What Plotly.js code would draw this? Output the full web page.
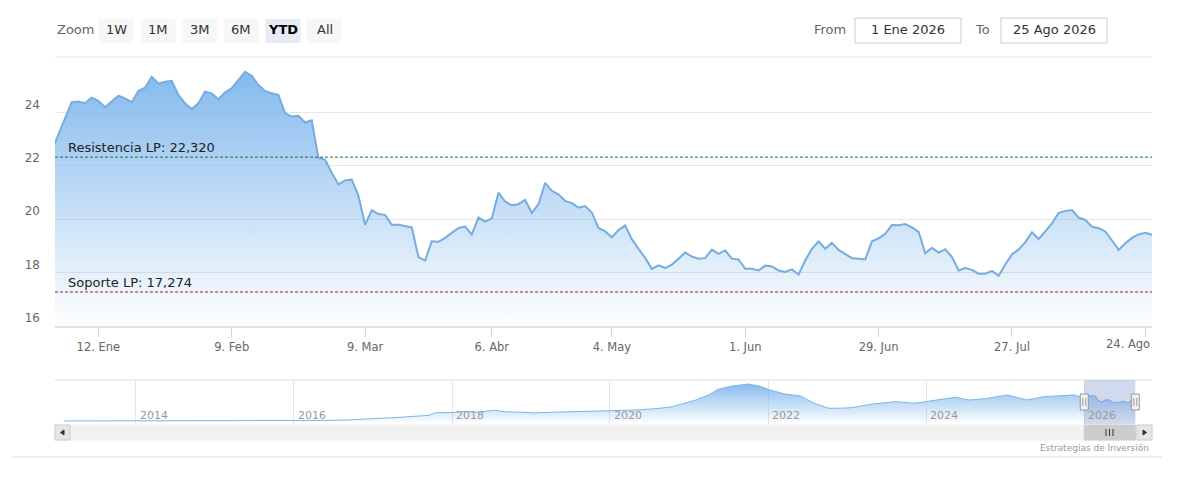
<!DOCTYPE html>
<html><head><meta charset="utf-8">
<script src="https://cdn.plot.ly/plotly-3.0.1.min.js"></script>
<style>html,body{margin:0;padding:0;background:#fff}#chart{width:1180px;height:492px}</style>
</head><body><div id="chart"></div>
<script>
// ---- data ----
const holidays = ['2026-01-01','2026-04-03','2026-04-06','2026-05-01'];
const firstDay = '2025-12-31';
const lastDay = '2026-08-25';
const valuesDec2025 = [22.55];
const valuesJan = [23.16,23.78,24.38,24.40,24.34,24.55,24.43,24.19,24.40,24.62,24.52,24.38,24.80,24.92,25.33,25.08,25.14,25.18,24.65,24.34,24.12];
const valuesFeb = [24.34,24.77,24.71,24.49,24.75,24.90,25.21,25.52,25.37,25.02,24.80,24.71,24.65,23.97,23.84,23.87,23.62,23.70,22.29,22.23];
const valuesMar = [21.74,21.30,21.45,21.48,20.87,19.79,20.34,20.19,20.16,19.79,19.79,19.74,19.69,18.58,18.45,19.17,19.15,19.30,19.47,19.67,19.72,19.42];
const valuesApr = [20.06,19.91,20.03,20.99,20.66,20.52,20.56,20.72,20.23,20.56,21.36,21.06,20.93,20.68,20.60,20.43,20.49,20.25,19.67,19.54];
const valuesMay = [19.32,19.59,19.76,19.25,18.89,18.55,18.14,18.27,18.17,18.30,18.52,18.75,18.60,18.52,18.54,18.86,18.70,18.83,18.52,18.49];
const valuesJun = [18.14,18.14,18.08,18.26,18.23,18.08,18.02,18.12,17.93,18.45,18.89,19.16,18.89,19.11,18.85,18.70,18.54,18.52,18.49,19.17,19.28,19.45];
const valuesJul = [19.78,19.77,19.82,19.69,19.52,18.72,18.93,18.75,18.87,18.58,18.08,18.17,18.10,17.96,17.96,18.06,17.88,18.30,18.68,18.86,19.14,19.51,19.26];
const valuesAug = [19.54,19.84,20.24,20.31,20.34,20.06,19.97,19.72,19.66,19.54,19.20,18.85,19.10,19.30,19.43,19.49,19.41];

const resistencia = 22.320;
const soporte = 17.274;

const tickDates = ['2026-01-12','2026-02-09','2026-03-09','2026-04-07','2026-05-04','2026-06-01','2026-06-29','2026-07-27','2026-08-24'];
const tickLabels = ['12. Ene','9. Feb','9. Mar','6. Abr','4. May','1. Jun','29. Jun','27. Jul','24. Ago'];
const yTickVals = [16,18,20,22,24];

// navigator history (before 2026)
const navDates = ['2013-02-01','2013-06-01','2013-10-01','2014-01-01','2014-06-01','2014-12-01','2015-06-01','2015-09-01','2016-01-01','2016-05-01','2016-09-01','2017-01-01','2017-05-01','2017-08-01','2017-09-15','2017-10-15','2018-01-01','2018-03-01','2018-05-01','2018-07-15','2018-09-01','2018-12-01','2019-01-15','2019-04-01','2019-06-15','2019-09-01','2019-11-15','2020-02-01','2020-05-01','2020-08-01','2020-10-15','2020-12-01','2021-02-01','2021-04-01','2021-05-15','2021-07-20','2021-09-01','2021-10-01','2021-11-20','2022-01-10','2022-03-20','2022-05-30','2022-08-01','2022-10-10','2022-12-15','2023-01-20','2023-05-01','2023-08-15','2023-11-10','2024-02-01','2024-05-15','2024-07-20','2024-10-01','2025-01-10','2025-04-10','2025-06-25','2025-09-15','2025-11-15'];
const navValues = [0.8,0.8,0.7,0.8,0.9,0.9,1.0,1.0,1.0,1.3,1.7,2.8,4.2,5.5,6.0,8.6,8.8,9.8,9.0,11.0,9.5,9.0,8.4,9.0,9.4,9.2,9.6,10.5,11.2,12.5,14.3,17.0,20.7,25.5,30.9,34.0,35.0,35.9,34.0,30.2,26.4,24.5,17.6,12.8,13.0,13.4,16.9,19.1,17.6,20.0,23.3,20.7,22.0,25.5,20.7,23.8,24.5,25.5];
const navYears = ['2014','2016','2018','2020','2022','2024','2026'];
const navRange = ['2012-12-23','2026-11-10'];
const navYRange = [-2.1, 39.7];

const rangeButtons = ['1W','1M','3M','6M','YTD','All'];
const selectedButton = 'YTD';
const selStart = '2026-01-01';
const fromText = '1 Ene 2026';
const toText = '25 Ago 2026';
const creditText = 'Estrategias de Inversión';

// ---- build trading-day calendar ----
function fmt(d){return d.toISOString().slice(0,10);}
function tradingDays(start,end,skip){
  const out=[]; let d=new Date(start+'T00:00:00Z'); const e=new Date(end+'T00:00:00Z');
  while(d<=e){const wd=d.getUTCDay(); const s=fmt(d); if(wd!==0&&wd!==6&&skip.indexOf(s)<0) out.push(s); d=new Date(d.getTime()+86400000);}
  return out;
}
const dates = tradingDays(firstDay,lastDay,holidays);
const values = [].concat(valuesDec2025,valuesJan,valuesFeb,valuesMar,valuesApr,valuesMay,valuesJun,valuesJul,valuesAug);

// ---- pixel helpers (layout only) ----
const L=55,R=28,T=57,B=52,W=1180,H=492;
const PW=W-L-R, PH=H-T-B;
const px = x => (x-L)/PW;
const py = y => (H-B-y)/PH;

const lineBlue='#76ace1';
const traces=[
 {x:dates,y:values,type:'scatter',mode:'lines',xaxis:'x',yaxis:'y',
  line:{color:lineBlue,width:2},fill:'tozeroy',
  fillgradient:{type:'vertical',start:16,stop:26.07,colorscale:[[0,'rgba(124,181,236,0)'],[1,'rgba(124,181,236,1)']]},
  hoverinfo:'skip'},
 {x:navDates.concat(dates),y:navValues.concat(values),type:'scatter',mode:'lines',xaxis:'x2',yaxis:'y2',
  line:{color:'#7cb5ec',width:1},fill:'tozeroy',
  fillgradient:{type:'vertical',start:navYRange[0],stop:navYRange[1],colorscale:[[0,'rgba(124,181,236,0)'],[1,'rgba(124,181,236,1)']]},
  hoverinfo:'skip'}
];

const fmtNum = v => v.toFixed(3).replace('.',',');
const shapes=[
 {type:'line',xref:'paper',yref:'paper',x0:0,x1:1,y0:1,y1:1,line:{color:'#e6e6e6',width:1}},
 {type:'line',xref:'paper',yref:'y',x0:0,x1:1,y0:resistencia,y1:resistencia,line:{color:'#1f7040',width:1,dash:'3px,2px'}},
 {type:'line',xref:'paper',yref:'y',x0:0,x1:1,y0:soporte,y1:soporte,line:{color:'#a3202c',width:1,dash:'3px,2px'}},
 {type:'line',xref:'paper',yref:'paper',x0:0,x1:1,y0:py(380),y1:py(380),line:{color:'#dddddd',width:1}},
 {type:'rect',xref:'x2',yref:'paper',x0:selStart,x1:lastDay,y0:py(424),y1:py(380),fillcolor:'rgba(102,133,194,0.3)',line:{width:0}},
 // scrollbar
 {type:'rect',xref:'paper',yref:'paper',x0:0,x1:1,y0:py(440),y1:py(425),fillcolor:'#f2f2f2',line:{color:'#f2f2f2',width:1}},
 {type:'rect',xref:'x2',yref:'paper',x0:selStart,x1:lastDay,y0:py(440),y1:py(425),fillcolor:'#cccccc',line:{color:'#cccccc',width:1}},
 {type:'rect',xref:'paper',yref:'paper',x0:px(55),x1:px(70),y0:py(440),y1:py(425),fillcolor:'#e6e6e6',line:{color:'#cccccc',width:1}},
 {type:'rect',xref:'paper',yref:'paper',x0:px(1137),x1:px(1152),y0:py(440),y1:py(425),fillcolor:'#e6e6e6',line:{color:'#cccccc',width:1}},
 {type:'path',xref:'paper',yref:'paper',path:`M ${px(60.5)},${py(432.5)} L ${px(64)},${py(430)} L ${px(64)},${py(435)} Z`,fillcolor:'#333',line:{color:'#333',width:1}},
 {type:'path',xref:'paper',yref:'paper',path:`M ${px(1146.5)},${py(432.5)} L ${px(1143)},${py(430)} L ${px(1143)},${py(435)} Z`,fillcolor:'#333',line:{color:'#333',width:1}},
 // bottom separator
 {type:'line',xref:'paper',yref:'paper',x0:px(12),x1:px(1162),y0:py(457),y1:py(457),line:{color:'#dddddd',width:1}},
 // date boxes
 {type:'rect',xref:'paper',yref:'paper',x0:px(855),x1:px(961),y0:py(43),y1:py(18),fillcolor:'#ffffff',line:{color:'#cccccc',width:1}},
 {type:'rect',xref:'paper',yref:'paper',x0:px(1001),x1:px(1107),y0:py(43),y1:py(18),fillcolor:'#ffffff',line:{color:'#cccccc',width:1}}
];
[1106,1109.5,1113].forEach(x=>shapes.push({type:'line',xref:'paper',yref:'paper',x0:px(x),x1:px(x),y0:py(436),y1:py(429),line:{color:'#333',width:1}}));
[selStart,lastDay].forEach(d=>{
 shapes.push({type:'rect',xref:'x2',xsizemode:'pixel',xanchor:d,x0:-4,x1:4,yref:'paper',y0:py(410),y1:py(394),fillcolor:'#f2f2f2',line:{color:'#999999',width:1}});
 [-1.5,1.5].forEach(o=>shapes.push({type:'line',xref:'x2',xsizemode:'pixel',xanchor:d,x0:o,x1:o,yref:'paper',y0:py(406),y1:py(398),line:{color:'#999999',width:1}}));
});

const annotations=[
 {xref:'paper',yref:'y',x:px(66),y:resistencia,xanchor:'left',yanchor:'bottom',text:'Resistencia LP: '+fmtNum(resistencia),showarrow:false,font:{size:13,color:'#222'}},
 {xref:'paper',yref:'y',x:px(66),y:soporte,xanchor:'left',yanchor:'bottom',text:'Soporte LP: '+fmtNum(soporte),showarrow:false,font:{size:13,color:'#222'}},
 {xref:'paper',yref:'paper',x:px(55),y:py(30),xanchor:'left',yanchor:'middle',text:'Zoom',showarrow:false,font:{size:13,color:'#666'}},
 {xref:'paper',yref:'paper',x:px(848),y:py(30),xanchor:'right',yanchor:'middle',text:'From',showarrow:false,font:{size:13,color:'#666'}},
 {xref:'paper',yref:'paper',x:px(908),y:py(30),xanchor:'center',yanchor:'middle',text:fromText,showarrow:false,font:{size:13,color:'#333'}},
 {xref:'paper',yref:'paper',x:px(992),y:py(30),xanchor:'right',yanchor:'middle',text:'To',showarrow:false,font:{size:13,color:'#666'}},
 {xref:'paper',yref:'paper',x:px(1054),y:py(30),xanchor:'center',yanchor:'middle',text:toText,showarrow:false,font:{size:13,color:'#333'}},
 {xref:'paper',yref:'paper',x:px(1151),y:py(448),xanchor:'right',yanchor:'middle',text:creditText,showarrow:false,font:{size:9,color:'#999'}},
 // last x tick label kept inside the plot edge, as in the reference
 {xref:'paper',yref:'paper',x:1,y:py(344),xanchor:'right',yanchor:'middle',text:tickLabels[tickLabels.length-1],showarrow:false,font:{size:11.5,color:'#666'}}
];
rangeButtons.forEach((b,i)=>{
 const x0=99+i*41.6, x1=x0+35;
 const sel=b===selectedButton;
 shapes.push({type:'rect',xref:'paper',yref:'paper',x0:px(x0),x1:px(x1),y0:py(43),y1:py(19),fillcolor:sel?'#e6ebf5':'#f7f7f7',line:{width:0}});
 annotations.push({xref:'paper',yref:'paper',x:px((x0+x1)/2),y:py(30),xanchor:'center',yanchor:'middle',text:sel?'<b>'+b+'</b>':b,showarrow:false,font:{size:13,color:sel?'#000':'#333'}});
});
navYears.forEach(yr=>annotations.push({xref:'x2',yref:'paper',x:yr+'-01-01',xshift:2,y:py(415),xanchor:'left',yanchor:'middle',text:yr,showarrow:false,font:{size:11,color:'#999'}}));

const axisTickText = tickLabels.map((t,i)=> i===tickLabels.length-1 ? '' : t);

const layout={
 width:W,height:H,margin:{l:L,r:R,t:T,b:B,pad:0},
 paper_bgcolor:'#fff',plot_bgcolor:'rgba(0,0,0,0)',showlegend:false,
 font:{family:'DejaVu Sans',color:'#666'},
 xaxis:{type:'date',domain:[0,1],anchor:'y',range:['2025-12-31 12:00',lastDay],
  rangebreaks:[{bounds:['sat','mon']},{values:holidays}],
  tickmode:'array',tickvals:tickDates,ticktext:axisTickText,ticks:'outside',ticklen:9,tickcolor:'#ccd6eb',tickwidth:1,
  showgrid:false,zeroline:false,showline:true,linecolor:'#dde2ea',linewidth:2,
  tickfont:{size:11.5,color:'#666'},automargin:false,fixedrange:true},
 yaxis:{domain:[py(326),1],anchor:'x',range:[16,26.07],tickmode:'array',tickvals:yTickVals,
  showgrid:true,gridcolor:'#e6e6e6',gridwidth:1,zeroline:false,showline:false,ticks:'',
  ticklabelshift:-8,ticklabelstandoff:14,tickfont:{size:12,color:'#666'},automargin:false,fixedrange:true},
 xaxis2:{type:'date',domain:[0,1],anchor:'y2',range:navRange,tickmode:'array',tickvals:navYears.map(y=>y+'-01-01'),
  showticklabels:false,ticks:'',showgrid:true,gridcolor:'#e6e6e6',zeroline:false,showline:false,automargin:false,fixedrange:true},
 yaxis2:{domain:[py(424),py(380)],anchor:'x2',range:navYRange,visible:false,showgrid:false,zeroline:false,fixedrange:true},
 shapes:shapes,annotations:annotations
};
Plotly.newPlot('chart',traces,layout,{staticPlot:true,displayModeBar:false});
</script></body></html>
